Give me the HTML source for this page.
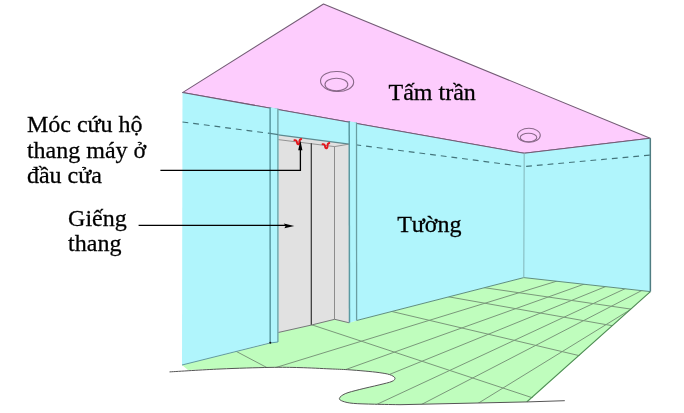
<!DOCTYPE html>
<html><head><meta charset="utf-8"><style>
html,body{margin:0;padding:0;background:#fff;width:684px;height:413px;overflow:hidden}
svg{position:absolute;left:0;top:0;will-change:transform}
.t{position:absolute;font-family:"Liberation Serif",serif;font-size:24px;line-height:0;white-space:nowrap;color:#000}
</style></head><body>
<svg width="684" height="413" viewBox="0 0 684 413"><defs><clipPath id="fc"><path d="M182,365 L270,343 L278,342 L278,332.5 L311.2,325.1 L334.7,319.3 L349.5,322.8 L356.6,320.5 L523.8,277.6 L650.4,291.6 L527.9,401.9 L400,404.7 C395.73,404.62 382.17,404.42 374.40,404.20 C366.63,403.98 358.65,403.88 353.40,403.40 C348.15,402.92 345.23,402.15 342.90,401.30 C340.57,400.45 339.02,399.57 339.40,398.30 C339.78,397.03 341.90,395.15 345.20,393.70 C348.50,392.25 353.55,391.07 359.20,389.60 C364.85,388.13 373.63,386.27 379.10,384.90 C384.57,383.53 389.37,382.57 392.00,381.40 C394.63,380.23 395.30,379.03 394.90,377.90 C394.50,376.77 392.23,375.48 389.60,374.60 C386.97,373.72 383.18,373.18 379.10,372.60 C375.02,372.02 370.37,371.58 365.10,371.10 C359.83,370.62 353.35,370.07 347.50,369.70 C341.65,369.33 337.92,369.25 330.00,368.90 C322.08,368.55 310.00,367.85 300.00,367.60 C290.00,367.35 283.33,367.17 270.00,367.40 C256.67,367.63 233.67,368.57 220.00,369.00 C206.33,369.43 193.33,369.83 188.00,370.00 Z"/></clipPath></defs><polygon points="323.5,4 650.2,138.2 524.2,153.3 182.5,92.6" fill="#FDCCFD" stroke="#735C75" stroke-width="1.05" stroke-linejoin="round"/><polygon points="182.5,92.6 524.2,153.3 523.8,277.6 182,365" fill="#B0F5FC"/><polygon points="524.2,153.3 650.2,138.2 650.4,291.6 523.8,277.6" fill="#B0F5FC"/><polyline points="182.5,92.6 524.2,153.3 650.2,138.2" fill="none" stroke="#735C75" stroke-width="1.05"/><path d="M182,365 L270,343 L278,342 L278,332.5 L311.2,325.1 L334.7,319.3 L349.5,322.8 L356.6,320.5 L523.8,277.6 L650.4,291.6 L527.9,401.9 L400,404.7 C395.73,404.62 382.17,404.42 374.40,404.20 C366.63,403.98 358.65,403.88 353.40,403.40 C348.15,402.92 345.23,402.15 342.90,401.30 C340.57,400.45 339.02,399.57 339.40,398.30 C339.78,397.03 341.90,395.15 345.20,393.70 C348.50,392.25 353.55,391.07 359.20,389.60 C364.85,388.13 373.63,386.27 379.10,384.90 C384.57,383.53 389.37,382.57 392.00,381.40 C394.63,380.23 395.30,379.03 394.90,377.90 C394.50,376.77 392.23,375.48 389.60,374.60 C386.97,373.72 383.18,373.18 379.10,372.60 C375.02,372.02 370.37,371.58 365.10,371.10 C359.83,370.62 353.35,370.07 347.50,369.70 C341.65,369.33 337.92,369.25 330.00,368.90 C322.08,368.55 310.00,367.85 300.00,367.60 C290.00,367.35 283.33,367.17 270.00,367.40 C256.67,367.63 233.67,368.57 220.00,369.00 C206.33,369.43 193.33,369.83 188.00,370.00 Z" fill="#BFFDBD"/><g clip-path="url(#fc)"><line x1="150.0" y1="406.2" x2="700.0" y2="237.1" stroke="#7A987A" stroke-width="1"/><line x1="150.0" y1="439.7" x2="700.0" y2="242.6" stroke="#7A987A" stroke-width="1"/><line x1="150.0" y1="471.8" x2="700.0" y2="248.2" stroke="#7A987A" stroke-width="1"/><line x1="150.0" y1="510.1" x2="700.0" y2="253.8" stroke="#7A987A" stroke-width="1"/><line x1="150.0" y1="544.9" x2="700.0" y2="260.4" stroke="#7A987A" stroke-width="1"/><line x1="150.0" y1="605.2" x2="700.0" y2="266.8" stroke="#7A987A" stroke-width="1"/><line x1="150.0" y1="238.8" x2="700.0" y2="319.2" stroke="#7A987A" stroke-width="1"/><line x1="150.0" y1="244.1" x2="700.0" y2="341.2" stroke="#7A987A" stroke-width="1"/><line x1="150.0" y1="254.5" x2="700.0" y2="384.1" stroke="#7A987A" stroke-width="1"/><line x1="150.0" y1="271.3" x2="700.0" y2="453.2" stroke="#7A987A" stroke-width="1"/><line x1="150.0" y1="305.9" x2="700.0" y2="596.1" stroke="#7A987A" stroke-width="1"/></g><polyline points="182,365 270,343" fill="none" stroke="#5E9AA0" stroke-width="1"/><polyline points="356.6,320.5 523.8,277.6 650.4,291.6" fill="none" stroke="#5E8E80" stroke-width="1"/><line x1="650.4" y1="291.6" x2="526.8" y2="401.9" stroke="#4F8A55" stroke-width="1.2"/><line x1="650.3" y1="138.2" x2="650.4" y2="291.6" stroke="#4F7D82" stroke-width="1.5"/><line x1="524.2" y1="153" x2="523.8" y2="277.6" stroke="#7FB5BA" stroke-width="1"/><path d="M169.50,371.90 C177.92,371.42 203.25,369.75 220.00,369.00 C236.75,368.25 256.67,367.63 270.00,367.40 C283.33,367.17 290.00,367.35 300.00,367.60 C310.00,367.85 322.08,368.55 330.00,368.90 C337.92,369.25 341.65,369.33 347.50,369.70 C353.35,370.07 359.83,370.62 365.10,371.10 C370.37,371.58 375.02,372.02 379.10,372.60 C383.18,373.18 386.97,373.72 389.60,374.60 C392.23,375.48 394.50,376.77 394.90,377.90 C395.30,379.03 394.63,380.23 392.00,381.40 C389.37,382.57 384.57,383.53 379.10,384.90 C373.63,386.27 364.85,388.13 359.20,389.60 C353.55,391.07 348.50,392.25 345.20,393.70 C341.90,395.15 339.78,397.03 339.40,398.30 C339.02,399.57 340.57,400.45 342.90,401.30 C345.23,402.15 348.15,402.92 353.40,403.40 C358.65,403.88 366.63,403.98 374.40,404.20 C382.17,404.42 395.73,404.62 400.00,404.70 L527.9,401.9 L564.8,400.7" fill="none" stroke="#555" stroke-width="1"/><line x1="182.5" y1="122" x2="270" y2="133.4" stroke="#44747B" stroke-width="1.15" stroke-dasharray="5.8,4.96"/><polyline points="355.4,144.7 524.1,166.6 650,155.1" fill="none" stroke="#44747B" stroke-width="1.15" stroke-dasharray="5.8,4.96"/><polygon points="278.2,134.8 349.2,144.1 349.2,322.8 334.7,319.3 311.2,325.1 278.2,332.5" fill="#E1E1E1"/><line x1="278.2" y1="134.8" x2="349.2" y2="144.1" stroke="#5E8A90" stroke-width="1.2"/><polyline points="278.2,139.6 334.5,146.6 349.2,144.1" fill="none" stroke="#8A8A8A" stroke-width="0.9"/><line x1="311.3" y1="143.3" x2="311.3" y2="325.1" stroke="#333" stroke-width="1.2"/><line x1="334.5" y1="146.4" x2="334.5" y2="319.3" stroke="#8C8C8C" stroke-width="1"/><polyline points="278.2,332.5 311.2,325.1 334.7,319.3 349.2,322.8" fill="none" stroke="#777" stroke-width="1"/><polygon points="270,107.2 278.2,108.8 278.2,342 270.2,343" fill="#B0F5FC"/><line x1="270.1" y1="107.2" x2="270.2" y2="343" stroke="#5A9AA2" stroke-width="1.5"/><line x1="277.9" y1="108.6" x2="277.9" y2="342" stroke="#6A9EA2" stroke-width="1.3"/><line x1="270.2" y1="343" x2="277.9" y2="342" stroke="#5A9AA2" stroke-width="1"/><polygon points="349.2,121.2 356.6,122.6 356.6,320.5 349.5,322.8" fill="#B0F5FC"/><line x1="349.2" y1="121" x2="349.5" y2="322.8" stroke="#5A9AA2" stroke-width="1.5"/><line x1="356.5" y1="122.5" x2="356.6" y2="320.5" stroke="#6A9EA2" stroke-width="1.3"/><line x1="270" y1="133.4" x2="278.2" y2="134.6" stroke="#4E7F86" stroke-width="1.2"/><circle cx="270.3" cy="342.8" r="1" fill="#111"/><ellipse cx="337.1" cy="81.5" rx="16.6" ry="10" fill="none" stroke="#8A6A8A" stroke-width="1.1" transform="rotate(3 337.1 81.5)"/><ellipse cx="336.4" cy="84.5" rx="11.4" ry="6.3" fill="none" stroke="#8A6A8A" stroke-width="1.1"/><ellipse cx="528.9" cy="135.3" rx="11.4" ry="7" fill="none" stroke="#8A6A8A" stroke-width="1.1"/><ellipse cx="528.5" cy="137.5" rx="8.3" ry="4.3" fill="none" stroke="#8A6A8A" stroke-width="1.1"/><path d="M294.40,140.20 Q296.60,139.60 296.90,142.20 Q297.20,144.60 298.40,144.30 Q299.70,143.80 299.40,140.80 Q299.60,139.60 301.20,139.00" fill="none" stroke="#E3161C" stroke-width="1.9" stroke-linecap="round" stroke-linejoin="round"/><path d="M322.50,144.20 Q324.70,143.60 325.00,146.20 Q325.30,148.60 326.50,148.30 Q327.80,147.80 327.50,144.80 Q327.70,143.60 329.30,143.00" fill="none" stroke="#E3161C" stroke-width="1.9" stroke-linecap="round" stroke-linejoin="round"/><polyline points="160.4,170.4 300.4,170.4 300.4,148" fill="none" stroke="#000" stroke-width="1.3"/><polygon points="300.4,140.6 298.2,150.2 302.4,150.2" fill="#000"/><line x1="138.6" y1="225.3" x2="287" y2="225.3" stroke="#000" stroke-width="1.3"/><polygon points="294.3,226.1 283.8,223.4 285.6,226 284.4,228.3" fill="#000"/><g font-family="Liberation Serif" font-size="24" fill="#000" stroke="#000" stroke-width="0.28"><text x="26.9" y="131.9">Móc cứu hộ</text><text x="26.9" y="157.6">thang máy ở</text><text x="26.9" y="183.1">đầu cửa</text><text x="68.1" y="225.5">Giếng</text><text x="68.1" y="251.3">thang</text><text x="388.5" y="99.6">Tấm trần</text><text x="397.2" y="231.8">Tường</text></g></svg>
</body></html>
